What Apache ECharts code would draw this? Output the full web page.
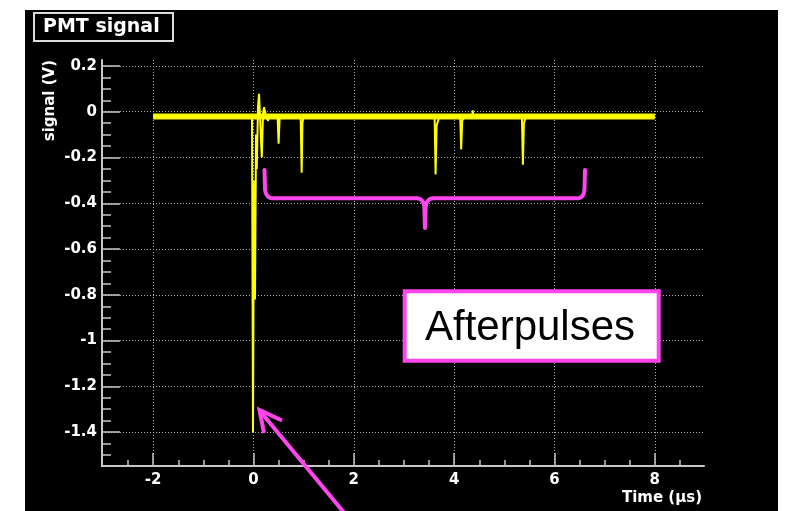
<!DOCTYPE html>
<html>
<head>
<meta charset="utf-8">
<script src="https://cdn.jsdelivr.net/npm/echarts@6/dist/echarts.min.js"></script>
<style>
html,body{margin:0;padding:0;background:#ffffff;}
#chart{width:791px;height:511px;}
</style>
</head>
<body>
<div id="chart"></div>
<script>
// ---- data ----
// PMT waveform: time in microseconds, signal in volts
const timeUs = [-2.00, -0.03, -0.01, 0.01, 0.03, 0.05, 0.065, 0.09, 0.11, 0.13, 0.165, 0.19, 0.21, 0.24, 0.29, 0.31,
  0.48, 0.50, 0.52, 0.55, 0.94, 0.96, 0.975, 1.00, 3.61, 3.63, 3.65, 3.70, 4.12, 4.14, 4.16, 4.20,
  4.36, 4.37, 4.38, 5.35, 5.37, 5.39, 5.43, 8.00];
const signalV = [-0.021, -0.021, -1.40, -0.30, -0.82, -0.10, -0.25, 0.02, 0.078, -0.02, -0.20, -0.01, 0.02, -0.01, -0.04, -0.015,
  -0.02, -0.14, -0.03, -0.02, -0.025, -0.267, -0.05, -0.02, -0.02, -0.274, -0.06, -0.025, -0.02, -0.165, -0.04, -0.02,
  -0.02, 0.006, -0.02, -0.02, -0.232, -0.05, -0.02, -0.021];
// baseline noise band of the trace (centre level)
const bandTime = [-2.0, 8.0];
const bandLevel = [-0.021, -0.021];
// axis ticks
const xMajorTicks = [-2, 0, 2, 4, 6, 8];
const xMinorTicks = [-2.5, -1.5, -1, -0.5, 0.5, 1, 1.5, 2.5, 3, 3.5, 4.5, 5, 5.5, 6.5, 7, 7.5, 8.5];
const yMajorTicks = [-1.4, -1.2, -1.0, -0.8, -0.6, -0.4, -0.2, 0, 0.2];
const yMinorTicks = [-1.5, -1.45, -1.35, -1.3, -1.25, -1.15, -1.1, -1.05, -0.95, -0.9, -0.85, -0.75, -0.7, -0.65,
  -0.55, -0.5, -0.45, -0.35, -0.3, -0.25, -0.15, -0.1, -0.05, 0.05, 0.1, 0.15];
// texts
const titleText = 'PMT signal';
const yTitle = 'signal (V)';
const xTitle = 'Time (\u03bcs)';
const noteText = 'Afterpulses';

// ---- chart ----
const chart = echarts.init(document.getElementById('chart'), null, {renderer: 'canvas'});
const axisGray = '#c8c8c8';
const gridGray = '#b4b4b4';
const labelFont = {color: '#ffffff', fontFamily: 'DejaVu Sans', fontWeight: 'bold', fontSize: 15};
const fmt = v => String(Math.round(v * 10) / 10 + 0);

const wave = timeUs.map((t, i) => [t, signalV[i]]);
const band = bandTime.map((t, i) => [t, bandLevel[i]]);

const magenta = '#ff45ee';

// annotation geometry helper (quadratic curve sampling for the brace shape)
function quad(p0, c, p1, n) {
  const pts = [];
  for (let i = 1; i <= n; i++) {
    const s = i / n, u = 1 - s;
    pts.push([u * u * p0[0] + 2 * u * s * c[0] + s * s * p1[0], u * u * p0[1] + 2 * u * s * c[1] + s * s * p1[1]]);
  }
  return pts;
}
const braceY = 198.3;
const brace = [[264.5, 170], [265, 189]]
  .concat(quad([265, 189], [266, braceY], [273, braceY], 8))
  .concat([[417, braceY]])
  .concat(quad([417, braceY], [423.5, braceY + 0.3], [424.3, 207], 8))
  .concat([[425, 228], [425.7, 207]])
  .concat(quad([425.7, 207], [426.5, braceY + 0.3], [433, braceY], 8))
  .concat([[577, braceY]])
  .concat(quad([577, braceY], [584, braceY], [584.5, 189], 8))
  .concat([[585, 170]]);

chart.setOption({
  animation: false,
  backgroundColor: 'transparent',
  grid: {left: 102, right: 87, top: 60, bottom: 45, containLabel: false},
  xAxis: [
    {
      type: 'value', gridIndex: 0, min: -3.02, max: 8.98, position: 'bottom',
      axisLine: {show: true, onZero: false, lineStyle: {color: axisGray, width: 2}},
      axisTick: {show: true, inside: true, length: 13, customValues: xMajorTicks, lineStyle: {color: axisGray, width: 1.5}},
      axisLabel: {show: true, customValues: xMajorTicks, margin: 7, formatter: fmt, ...labelFont},
      splitLine: {show: true, lineStyle: {color: gridGray, width: 1, type: [1, 2]}}
    },
    {
      type: 'value', gridIndex: 0, min: -3.02, max: 8.98, position: 'bottom',
      axisLine: {show: false, onZero: false},
      axisTick: {show: true, inside: true, length: 6, customValues: xMinorTicks, lineStyle: {color: axisGray, width: 1.5}},
      axisLabel: {show: false},
      splitLine: {show: false}
    }
  ],
  yAxis: [
    {
      type: 'value', gridIndex: 0, min: -1.548, max: 0.226, position: 'left',
      axisLine: {show: true, onZero: false, lineStyle: {color: axisGray, width: 2}},
      axisTick: {show: true, inside: true, length: 18, customValues: yMajorTicks, lineStyle: {color: axisGray, width: 1.5}},
      axisLabel: {show: true, customValues: yMajorTicks, margin: 5, formatter: fmt, ...labelFont},
      splitLine: {show: true, lineStyle: {color: gridGray, width: 1, type: [1, 2]}}
    },
    {
      type: 'value', gridIndex: 0, min: -1.548, max: 0.226, position: 'left',
      axisLine: {show: false, onZero: false},
      axisTick: {show: true, inside: true, length: 9, customValues: yMinorTicks, lineStyle: {color: axisGray, width: 1.5}},
      axisLabel: {show: false},
      splitLine: {show: false}
    }
  ],
  series: [
    {
      name: 'noise band', type: 'line', xAxisIndex: 0, yAxisIndex: 0, data: band,
      symbol: 'none', lineStyle: {color: '#f5f500', width: 6, cap: 'butt'}, z: 3, silent: true
    },
    {
      name: 'PMT signal', type: 'line', xAxisIndex: 0, yAxisIndex: 0, data: wave,
      symbol: 'none', lineStyle: {color: '#ffff00', width: 2}, z: 4, silent: true
    }
  ],
  graphic: [
    {type: 'rect', z: -100, silent: true, shape: {x: 25, y: 10, width: 753, height: 501}, style: {fill: '#000000'}},
    {type: 'rect', z: 10, shape: {x: 34, y: 13, width: 139, height: 28}, style: {fill: '#000000', stroke: '#dddddd', lineWidth: 2}},
    {type: 'text', z: 11, x: 43, y: 27, style: {text: titleText, fill: '#ffffff', font: 'bold 19px "DejaVu Sans"', align: 'left', verticalAlign: 'middle'}},
    {type: 'text', z: 11, x: 50, y: 60, rotation: Math.PI / 2, style: {text: yTitle, fill: '#ffffff', font: 'bold 15px "DejaVu Sans"', align: 'right', verticalAlign: 'middle'}},
    {type: 'text', z: 11, x: 702, y: 498, style: {text: xTitle, fill: '#ffffff', font: 'bold 15px "DejaVu Sans"', align: 'right', verticalAlign: 'middle'}},
    {type: 'polyline', z: 12, shape: {points: brace}, style: {stroke: magenta, lineWidth: 4, lineJoin: 'round', lineCap: 'round', fill: null}},
    {type: 'rect', z: 12, shape: {x: 404.7, y: 291.3, width: 254, height: 69.4}, style: {fill: '#ffffff', stroke: magenta, lineWidth: 4}},
    {type: 'text', z: 13, x: 530, y: 328, style: {text: noteText, fill: '#000000', font: '42px "Liberation Sans"', align: 'center', verticalAlign: 'middle'}},
    {type: 'polyline', z: 12, shape: {points: [[346, 515], [260, 411]]}, style: {stroke: magenta, lineWidth: 4, lineCap: 'butt', fill: null}},
    {type: 'polyline', z: 12, shape: {points: [[282, 420.5], [259.5, 410], [264, 433]]}, style: {stroke: magenta, lineWidth: 4, lineJoin: 'miter', fill: null}}
  ]
});
</script>
</body>
</html>
